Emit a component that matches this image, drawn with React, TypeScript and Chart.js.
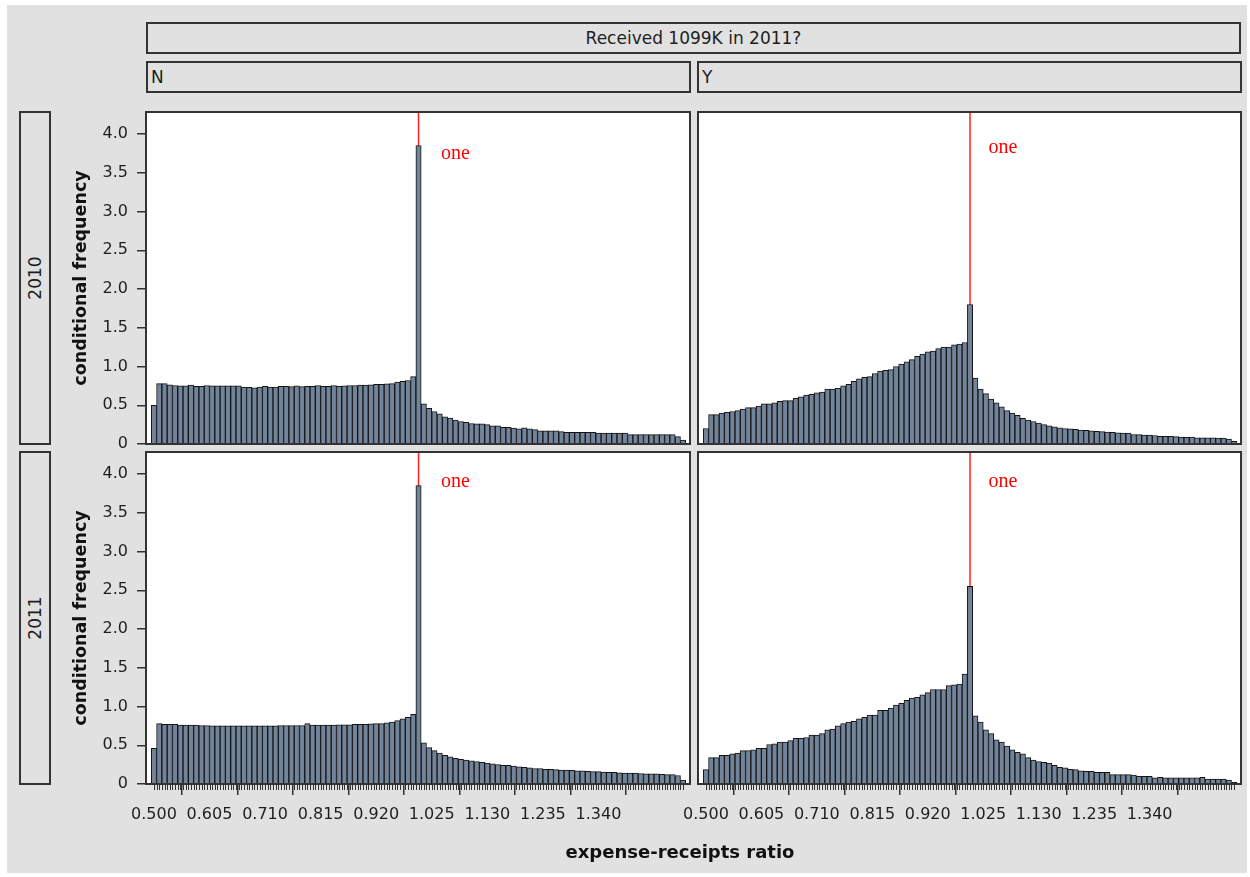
import React, { useEffect, useRef } from "react";
import { Chart, registerables } from "chart.js";

Chart.register(...registerables);

// Histogram bins of the expense-receipts ratio (bin centres, width 0.01)
const BIN_START = 0.5;
const BIN_WIDTH = 0.01;
const BIN_COUNT = 101;
const RATIO_BINS: number[] = Array.from({ length: BIN_COUNT }, (_, i) =>
  Number((BIN_START + i * BIN_WIDTH).toFixed(2))
);

// Conditional frequency per bin: 2010, no 1099K
const FREQ_2010_N = [
  0.5, 0.78, 0.78, 0.765, 0.755, 0.75, 0.75, 0.76, 0.745, 0.745,
  0.755, 0.75, 0.75, 0.75, 0.75, 0.75, 0.75, 0.735, 0.73, 0.725,
  0.735, 0.745, 0.735, 0.735, 0.745, 0.745, 0.74, 0.75, 0.74, 0.745,
  0.745, 0.755, 0.745, 0.745, 0.755, 0.745, 0.75, 0.755, 0.755, 0.76,
  0.76, 0.765, 0.77, 0.77, 0.775, 0.78, 0.8, 0.81, 0.82, 0.87,
  3.85,
  0.52, 0.46, 0.42, 0.39, 0.35, 0.335, 0.31, 0.29, 0.28, 0.265,
  0.26, 0.26, 0.25, 0.235, 0.235, 0.215, 0.215, 0.205, 0.195, 0.21,
  0.195, 0.185, 0.17, 0.17, 0.17, 0.17, 0.16, 0.15, 0.15, 0.15,
  0.15, 0.15, 0.15, 0.14, 0.14, 0.14, 0.14, 0.14, 0.14, 0.12,
  0.12, 0.12, 0.12, 0.12, 0.12, 0.12, 0.12, 0.12, 0.095, 0.05,
];

// 2010, received 1099K
const FREQ_2010_Y = [
  0.2, 0.38, 0.38, 0.4, 0.41, 0.42, 0.43, 0.45, 0.47, 0.47,
  0.49, 0.52, 0.52, 0.53, 0.55, 0.56, 0.56, 0.59, 0.61, 0.63,
  0.64, 0.66, 0.67, 0.71, 0.71, 0.72, 0.75, 0.77, 0.81, 0.84,
  0.86, 0.87, 0.91, 0.94, 0.95, 0.96, 1.0, 1.03, 1.06, 1.09,
  1.13, 1.16, 1.19, 1.2, 1.23, 1.25, 1.25, 1.28, 1.29, 1.31,
  1.8,
  0.85, 0.71, 0.65, 0.58, 0.53, 0.48, 0.43, 0.4, 0.37, 0.33,
  0.31, 0.29, 0.27, 0.25, 0.235, 0.22, 0.21, 0.2, 0.195, 0.19,
  0.18, 0.175, 0.17, 0.165, 0.16, 0.155, 0.15, 0.145, 0.14, 0.14,
  0.12, 0.12, 0.115, 0.115, 0.11, 0.1, 0.1, 0.1, 0.095, 0.09,
  0.085, 0.09, 0.08, 0.08, 0.08, 0.08, 0.075, 0.075, 0.065, 0.035,
];

// 2011, no 1099K
const FREQ_2011_N = [
  0.46, 0.78, 0.77, 0.77, 0.77, 0.76, 0.76, 0.76, 0.76, 0.755,
  0.755, 0.75, 0.75, 0.75, 0.75, 0.75, 0.75, 0.75, 0.75, 0.75,
  0.75, 0.75, 0.75, 0.75, 0.755, 0.755, 0.755, 0.755, 0.755, 0.78,
  0.76, 0.76, 0.76, 0.76, 0.76, 0.765, 0.765, 0.765, 0.77, 0.77,
  0.77, 0.775, 0.78, 0.78, 0.79, 0.8, 0.82, 0.84, 0.86, 0.9,
  3.85,
  0.53, 0.47, 0.43, 0.4, 0.37, 0.35, 0.33, 0.32, 0.31, 0.3,
  0.29, 0.28, 0.27, 0.26, 0.25, 0.24, 0.24, 0.23, 0.22, 0.215,
  0.21, 0.2, 0.2, 0.19, 0.19, 0.185, 0.18, 0.18, 0.175, 0.17,
  0.17, 0.165, 0.16, 0.16, 0.155, 0.15, 0.15, 0.145, 0.14, 0.14,
  0.14, 0.135, 0.13, 0.13, 0.13, 0.125, 0.12, 0.12, 0.11, 0.05,
];

// 2011, received 1099K
const FREQ_2011_Y = [
  0.185, 0.34, 0.34, 0.37, 0.37, 0.39, 0.4, 0.43, 0.43, 0.44,
  0.46, 0.46, 0.51, 0.52, 0.54, 0.54, 0.56, 0.59, 0.59, 0.6,
  0.63, 0.63, 0.65, 0.7, 0.71, 0.75, 0.78, 0.8, 0.81, 0.84,
  0.86, 0.89, 0.89, 0.95, 0.95, 0.98, 1.02, 1.04, 1.08, 1.11,
  1.12, 1.15, 1.18, 1.22, 1.22, 1.22, 1.27, 1.28, 1.29, 1.42,
  2.55,
  0.88, 0.8, 0.7, 0.65, 0.57, 0.54, 0.49, 0.44, 0.41, 0.39,
  0.34, 0.31, 0.29, 0.28, 0.27, 0.24, 0.215, 0.21, 0.19, 0.185,
  0.17, 0.165, 0.165, 0.15, 0.15, 0.15, 0.12, 0.12, 0.12, 0.12,
  0.115, 0.1, 0.1, 0.1, 0.08, 0.085, 0.08, 0.08, 0.08, 0.08,
  0.08, 0.08, 0.08, 0.085, 0.065, 0.065, 0.065, 0.065, 0.05, 0.02,
];

// Axis ticks
const X_MAJOR_TICKS = [0.5, 0.605, 0.71, 0.815, 0.92, 1.025, 1.13, 1.235, 1.34];
const X_TICK_LABELS = ["0.500", "0.605", "0.710", "0.815", "0.920", "1.025", "1.130", "1.235", "1.340"];
const X_MINOR_START = 0.5;
const X_MINOR_END = 1.5;
const X_MINOR_STEP = 0.005;
const Y_TICKS = [0, 0.5, 1, 1.5, 2, 2.5, 3, 3.5, 4];
const Y_TICK_LABELS = ["0", "0.5", "1.0", "1.5", "2.0", "2.5", "3.0", "3.5", "4.0"];

// Reference line at ratio = 1
const REFERENCE_RATIO = 1.0;
const REFERENCE_LABEL = "one";

// Facet labels
const COLUMN_HEADER = "Received 1099K in 2011?";
const COLUMN_LEVELS = ["N", "Y"];
const ROW_LEVELS = ["2010", "2011"];
const X_TITLE = "expense-receipts ratio";
const Y_TITLE = "conditional frequency";

const X_MIN = 0.485;
const X_MAX = 1.513;
const Y_MAX = 4.285;

const FONT = "'DejaVu Sans', Verdana, sans-serif";
const BG = "#e1e1e1";
const INK = "#1e1e1e";
const FRAME = "#333333";
const BAR_FILL = "#72849a";
const BAR_EDGE = "#141414";
const REF_RED = "#ff1e1e";

type Box = { left: number; top: number; width: number; height: number };
type Pad = { left: number; top: number; right: number; bottom: number };

type Panel = {
  id: string;
  values: number[];
  showX: boolean;
  showY: boolean;
  box: Box;
  pad: Pad;
  labelAt: { x: number; y: number };
};

const PANELS: Panel[] = [
  {
    id: "2010-N",
    values: FREQ_2010_N,
    showX: false,
    showY: true,
    box: { left: 56, top: 104, width: 640, height: 346 },
    pad: { left: 0, top: 8, right: 6, bottom: 6 },
    labelAt: { x: 1.0425, y: 3.75 },
  },
  {
    id: "2010-Y",
    values: FREQ_2010_Y,
    showX: false,
    showY: false,
    box: { left: 660, top: 104, width: 585, height: 346 },
    pad: { left: 38, top: 8, right: 4, bottom: 6 },
    labelAt: { x: 1.035, y: 3.83 },
  },
  {
    id: "2011-N",
    values: FREQ_2011_N,
    showX: true,
    showY: true,
    box: { left: 56, top: 448, width: 640, height: 420 },
    pad: { left: 0, top: 4, right: 6, bottom: 24 },
    labelAt: { x: 1.0425, y: 3.9 },
  },
  {
    id: "2011-Y",
    values: FREQ_2011_Y,
    showX: true,
    showY: false,
    box: { left: 660, top: 448, width: 585, height: 420 },
    pad: { left: 38, top: 4, right: 4, bottom: 24 },
    labelAt: { x: 1.035, y: 3.9 },
  },
];

// Panel decorations: white plot background, reference line + label, frame, minor ticks
const panelDecor = {
  id: "panelDecor",
  beforeDraw(chart: any) {
    const { ctx, chartArea: a } = chart;
    ctx.save();
    ctx.fillStyle = "#ffffff";
    ctx.fillRect(a.left, a.top, a.right - a.left, a.bottom - a.top);
    ctx.restore();
  },
  beforeDatasetsDraw(chart: any) {
    const { ctx, chartArea: a, scales } = chart;
    const x = scales.x.getPixelForValue(REFERENCE_RATIO);
    ctx.save();
    ctx.strokeStyle = REF_RED;
    ctx.lineWidth = 1.5;
    ctx.beginPath();
    ctx.moveTo(x, a.top);
    ctx.lineTo(x, a.bottom);
    ctx.stroke();
    ctx.restore();
  },
  afterDatasetsDraw(chart: any, _args: any, opts: any) {
    const { ctx, scales } = chart;
    const at = opts.labelAt;
    ctx.save();
    ctx.fillStyle = "#ff0000";
    ctx.font = "20px 'Liberation Serif', 'DejaVu Serif', serif";
    ctx.textAlign = "left";
    ctx.textBaseline = "middle";
    ctx.fillText(REFERENCE_LABEL, scales.x.getPixelForValue(at.x), scales.y.getPixelForValue(at.y));
    ctx.restore();
  },
  afterDraw(chart: any, _args: any, opts: any) {
    const { ctx, chartArea: a, scales } = chart;
    ctx.save();
    if (opts.minorTicks) {
      ctx.strokeStyle = FRAME;
      ctx.lineWidth = 1;
      ctx.beginPath();
      const n = Math.round((X_MINOR_END - X_MINOR_START) / X_MINOR_STEP);
      for (let i = 0; i <= n; i++) {
        const px = Math.round(scales.x.getPixelForValue(X_MINOR_START + i * X_MINOR_STEP)) + 0.5;
        ctx.moveTo(px, a.bottom);
        ctx.lineTo(px, a.bottom + 6);
      }
      ctx.stroke();
    }
    ctx.strokeStyle = FRAME;
    ctx.lineWidth = 2;
    ctx.strokeRect(a.left, a.top, a.right - a.left, a.bottom - a.top);
    ctx.restore();
  },
};

function HistogramPanel({ panel }: { panel: Panel }) {
  const ref = useRef<HTMLCanvasElement | null>(null);

  useEffect(() => {
    const canvas = ref.current;
    if (!canvas) return;
    const chart = new Chart(canvas, {
      type: "bar",
      data: {
        datasets: [
          {
            data: RATIO_BINS.map((x, i) => ({ x, y: panel.values[i] })) as any,
            backgroundColor: BAR_FILL,
            borderColor: BAR_EDGE,
            borderWidth: 1,
            barPercentage: 1,
            categoryPercentage: 1,
          },
        ],
      },
      options: {
        animation: false,
        responsive: false,
        maintainAspectRatio: false,
        layout: { padding: panel.pad },
        plugins: {
          legend: { display: false },
          tooltip: { enabled: false },
          panelDecor: { labelAt: panel.labelAt, minorTicks: panel.showX },
        } as any,
        scales: {
          x: {
            type: "linear",
            min: X_MIN,
            max: X_MAX,
            offset: false,
            display: panel.showX,
            border: { display: false },
            grid: {
              display: true,
              drawOnChartArea: false,
              drawTicks: true,
              tickLength: 11,
              color: FRAME,
              lineWidth: 1.5,
            },
            ticks: {
              autoSkip: false,
              maxRotation: 0,
              minRotation: 0,
              padding: 10,
              color: INK,
              font: { family: FONT, size: 16 },
              callback: (_v: any, i: number) => X_TICK_LABELS[i],
            },
            afterBuildTicks: (scale: any) => {
              scale.ticks = X_MAJOR_TICKS.map((v) => ({ value: v }));
            },
            afterFit: (scale: any) => {
              scale.paddingLeft = 0;
              scale.paddingRight = 0;
              scale.paddingTop = 0;
              scale.paddingBottom = 0;
              scale.height = panel.showX ? 60 : 0;
            },
          },
          y: {
            type: "linear",
            min: 0,
            max: Y_MAX,
            display: panel.showY,
            border: { display: false },
            grid: {
              display: true,
              drawOnChartArea: false,
              drawTicks: true,
              tickLength: 9,
              color: FRAME,
              lineWidth: 1.5,
            },
            ticks: {
              padding: 9,
              color: INK,
              font: { family: FONT, size: 16 },
              callback: (_v: any, i: number) => Y_TICK_LABELS[i],
            },
            afterBuildTicks: (scale: any) => {
              scale.ticks = Y_TICKS.map((v) => ({ value: v }));
            },
            title: {
              display: true,
              text: Y_TITLE,
              color: "#111111",
              font: { family: FONT, size: 17.5, weight: "bold" },
              padding: { top: 15, bottom: 0 },
            },
            afterFit: (scale: any) => {
              scale.paddingLeft = 0;
              scale.paddingRight = 0;
              scale.paddingTop = 0;
              scale.paddingBottom = 0;
              scale.width = panel.showY ? 90 : 0;
            },
          },
        },
      } as any,
      plugins: [panelDecor as any],
    });
    return () => chart.destroy();
  }, [panel]);

  const { left, top, width, height } = panel.box;
  return (
    <canvas
      ref={ref}
      width={width}
      height={height}
      style={{ position: "absolute", left, top, width, height, display: "block" }}
    />
  );
}

const stripStyle = (left: number, top: number, width: number, height: number): React.CSSProperties => ({
  position: "absolute",
  left,
  top,
  width,
  height,
  boxSizing: "border-box",
  border: `2px solid ${FRAME}`,
  background: BG,
  fontFamily: FONT,
  fontSize: 17,
  color: INK,
});

export default function App() {
  return (
    <div style={{ position: "absolute", left: 0, top: 0, width: 1250, height: 877, background: "#ffffff", overflow: "hidden" }}>
      <div style={{ position: "absolute", left: 7, top: 5, width: 1240, height: 868, background: BG }} />

      <div style={{ ...stripStyle(146, 22, 1095, 32), display: "flex", alignItems: "center", justifyContent: "center" }}>
        {COLUMN_HEADER}
      </div>
      <div style={{ ...stripStyle(146, 61, 545, 32), display: "flex", alignItems: "center", paddingLeft: 3 }}>
        {COLUMN_LEVELS[0]}
      </div>
      <div style={{ ...stripStyle(697, 61, 545, 32), display: "flex", alignItems: "center", paddingLeft: 3 }}>
        {COLUMN_LEVELS[1]}
      </div>

      {ROW_LEVELS.map((lvl, r) => (
        <div key={lvl} style={stripStyle(19, r === 0 ? 111 : 451, 32, 334)}>
          <div
            style={{
              position: "absolute",
              left: "50%",
              top: "50%",
              transform: "translate(-50%, -50%) rotate(-90deg)",
              whiteSpace: "nowrap",
            }}
          >
            {lvl}
          </div>
        </div>
      ))}

      {PANELS.map((p) => (
        <HistogramPanel key={p.id} panel={p} />
      ))}

      <div
        style={{
          position: "absolute",
          left: 380,
          top: 841,
          width: 600,
          textAlign: "center",
          fontFamily: FONT,
          fontSize: 18,
          fontWeight: "bold",
          color: "#111111",
          lineHeight: "22px",
        }}
      >
        {X_TITLE}
      </div>
    </div>
  );
}
